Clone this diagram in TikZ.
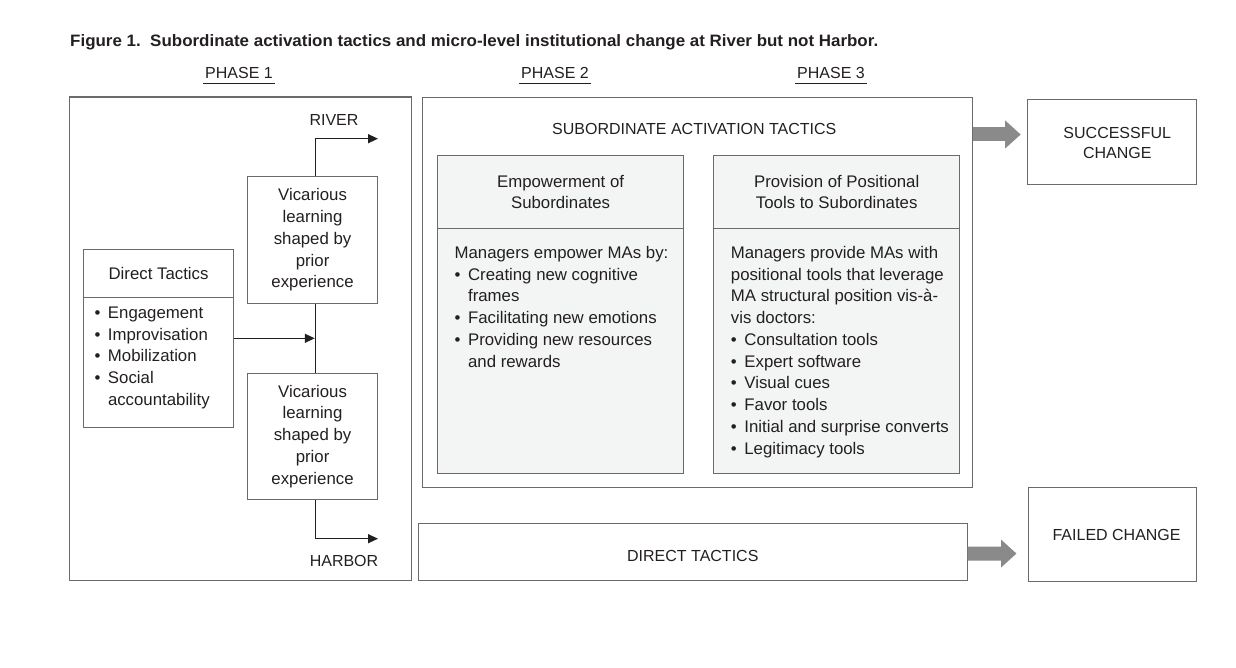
\documentclass[tikz,border=0pt]{standalone}
\usepackage{fontspec}
\usepackage{graphicx}
\setmainfont{Liberation Sans}
\usetikzlibrary{arrows.meta,calc}

\definecolor{ink}{HTML}{231F20}
\definecolor{linec}{HTML}{6A6A6A}
\definecolor{paneltint}{HTML}{F3F5F4}
\definecolor{blockarrow}{HTML}{8A8A8A}

\newcommand{\figtitletext}{Figure 1.\ \ Subordinate activation tactics and micro-level institutional change at River but not Harbor.}
\newcommand{\titlefont}{\fontsize{16.5}{19}\selectfont\bfseries}
\newcommand{\bodyfont}{\fontsize{16.8}{21.75}\selectfont}
\newcommand{\capsfont}{\fontsize{16}{20.7}\selectfont}
\newcommand{\bul}{\makebox[13.5pt][l]{\textbullet}}
\newcommand{\hang}{\hspace*{13.5pt}}

\begin{document}
\begin{tikzpicture}[x=1pt,y=-1pt,
  every node/.style={text=ink, font=\bodyfont},
  box/.style={draw=linec, line width=1.1pt, inner sep=0pt, anchor=north west, align=center},
  panel/.style={box, fill=paneltint},
  label/.style={inner sep=0pt, anchor=base, align=center, font=\capsfont},
  listtext/.style={inner sep=0pt, anchor=base west, align=left},
  flow/.style={draw=ink, line width=1.4pt, -{Triangle[length=10pt,width=9pt]}},
  link/.style={draw=ink, line width=1.5pt},
  blockflow/.style={draw=blockarrow, line width=14pt, -{Triangle[length=15.5pt,width=27pt]}},
  phase/.style={inner xsep=2pt, inner ysep=4pt, anchor=base, font=\capsfont},
  uline/.style={draw=ink, line width=1.4pt}
]
\useasboundingbox (0,0) rectangle (1236,668);

% caption, squeezed to the width of the title line
\node[inner sep=0pt, anchor=base west, font=\titlefont] (title) at (70,47)
  {\resizebox{808pt}{\height}{\figtitletext}};

% phase headings
\node[phase] (ph1) at (239,79) {PHASE 1};
\node[phase] (ph2) at (555,79) {PHASE 2};
\node[phase] (ph3) at (831,79) {PHASE 3};
\foreach \p in {ph1,ph2,ph3}
  \draw[uline] (\p.south west) -- (\p.south east);

% ---- phase 1 ----
\node[box, minimum width=342, minimum height=483.5] (p1) at (68.5,96.5) {};

\node[box, minimum width=130, minimum height=127] (vic1) at (247,176)
  {Vicarious\\learning\\shaped by\\prior\\experience};
\node[box, minimum width=130, minimum height=126.5] (vic2) at (247,372.5)
  {Vicarious\\learning\\shaped by\\prior\\experience};

\node[box, minimum width=149.4, minimum height=47.3] (dthead) at (83.3,249.2) {Direct Tactics};
\node[box, minimum width=149.4, minimum height=130] (dtbody) at (83.3,296.5) {};
% multi-line nodes are anchored on the baseline of their last line
\node[listtext] (dtlist) at ($(dtbody.north west)+(11,108.9)$)
  {\bul Engagement\\ \bul Improvisation\\ \bul Mobilization\\ \bul Social\\ \hang accountability};

\node[label] (river) at (334,126) {RIVER};
\node[label] (harbor) at (344,566.8) {HARBOR};

% the spine between the two learning boxes runs a little right of their centres
\coordinate (spinetop) at ([xshift=3pt]vic1.south);
\coordinate (spinebot) at ([xshift=3pt]vic2.north);
\coordinate (rivergate) at ([xshift=3pt]vic1.north);
\coordinate (harborgate) at ([xshift=3pt]vic2.south);
\coordinate (riverend) at (378,138.7);
\coordinate (harborend) at (378,538.7);
\coordinate (join) at ($(spinetop)!0.5!(spinebot)$);

\draw[flow] (rivergate) |- (riverend);
\draw[link] (spinetop) -- (spinebot);
\draw[flow] (join -| dtbody.east) -- ([xshift=-0.8pt]join);
\draw[flow] (harborgate) |- (harborend);

% ---- phases 2 and 3 ----
\node[box, minimum width=549.5, minimum height=389.4] (sat) at (422,97.3) {};
\node[label] (sattitle) at ($(sat.north)+(-3,37.7)$) {SUBORDINATE ACTIVATION TACTICS};

\node[panel, minimum width=246.6, minimum height=72.7] (emphead) at (436.7,155)
  {Empowerment of\\Subordinates};
\node[panel, minimum width=246.6, minimum height=245.6] (empbody) at (436.7,227.7) {};
\node[listtext] (emplist) at ($(empbody.north west)+(17.7,139.35)$)
  {Managers empower MAs by:\\
   \bul Creating new cognitive\\ \hang frames\\
   \bul Facilitating new emotions\\
   \bul Providing new resources\\ \hang and rewards};

\node[panel, minimum width=246.3, minimum height=72.7] (provhead) at (713,155)
  {Provision of Positional\\Tools to Subordinates};
\node[panel, minimum width=246.3, minimum height=245.6] (provbody) at (713,227.7) {};
\node[listtext] (provlist) at ($(provbody.north west)+(17.7,226.35)$)
  {Managers provide MAs with\\
   positional tools that leverage\\
   MA structural position vis-à-\\
   vis doctors:\\
   \bul Consultation tools\\
   \bul Expert software\\
   \bul Visual cues\\
   \bul Favor tools\\
   \bul Initial and surprise converts\\
   \bul Legitimacy tools};

\node[box, minimum width=548.5, minimum height=56.7] (dtb) at (418,523.3) {};
\node[label] (dtbtext) at ($(dtb.north)+(0,38.4)$) {DIRECT TACTICS};

% ---- outcomes ----
\node[box, minimum width=168.2, minimum height=85] (succ) at (1027.3,99) {};
\node[label] (succtext) at ($(succ.north)+(5.3,60)$) {SUCCESSFUL\\CHANGE};

\node[box, minimum width=167.7, minimum height=94] (fail) at (1028,486.7) {};
\node[label] (failtext) at ($(fail.north)+(4.2,54)$) {FAILED CHANGE};

\draw[blockflow] ($(sat.north east)+(0,37.2)$) -- ($(succ.north west)+(-6.6,35.5)$);
\draw[blockflow] ($(dtb.east)+(0,1.3)$) -- ($(fail.west)+(-11.5,19.3)$);

\end{tikzpicture}
\end{document}
